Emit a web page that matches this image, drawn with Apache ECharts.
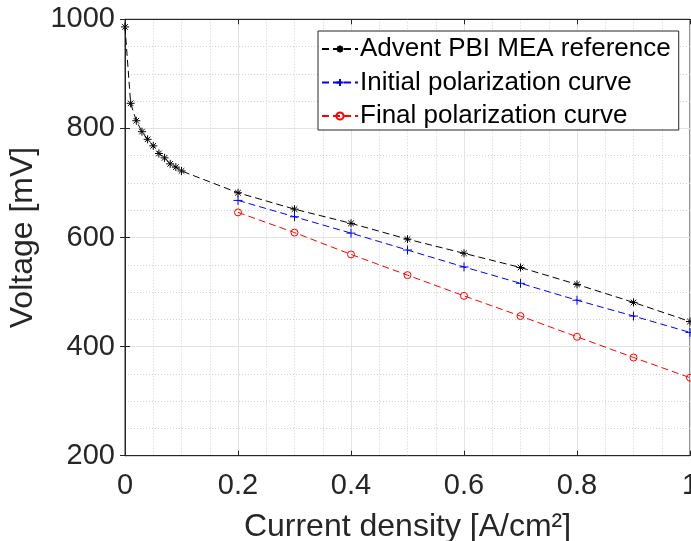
<!DOCTYPE html>
<html>
<head>
<meta charset="utf-8">
<script src="https://cdn.jsdelivr.net/npm/echarts@6/dist/echarts.min.js"></script>
<style>
html,body{margin:0;padding:0;background:#fff;}
#chart{width:691px;height:541px;}
</style>
</head>
<body>
<div id="chart"></div>
<script>
// Data
const refCurrent = [0, 0.01, 0.02, 0.03, 0.04, 0.05, 0.06, 0.07, 0.08, 0.09, 0.1, 0.2, 0.3, 0.4, 0.5, 0.6, 0.7, 0.8, 0.9, 1.0];
const refVoltage = [986, 846, 814, 794, 780, 768, 754, 746, 735, 729, 722, 682, 652, 626, 597, 571, 545, 514, 481, 446];
const polCurrent = [0.2, 0.3, 0.4, 0.5, 0.6, 0.7, 0.8, 0.9, 1.0];
const initialVoltage = [668, 638, 608, 577, 546, 516, 485, 456, 426];
const finalVoltage = [646, 609, 569, 531, 493, 456, 418, 380, 343];
const seriesNames = ['Advent PBI MEA reference', 'Initial polarization curve', 'Final polarization curve'];
const xTicks = [0, 0.2, 0.4, 0.6, 0.8, 1];
const yTicks = [200, 400, 600, 800, 1000];

const FONT = "'Liberation Sans', Arial, Helvetica, sans-serif";
const AXC = '#262626';
const pairs = (xs, ys) => xs.map((x, i) => [x, ys[i]]);

const SYM_STAR = 'path://M5 0 L5 10 M0 5 L10 5 M1.5 1.5 L8.5 8.5 M8.5 1.5 L1.5 8.5';
const SYM_PLUS = 'path://M5 0 L5 10 M0 5 L10 5';
const SYM_CIRC = 'path://M10 5 A5 5 0 1 1 0 5 A5 5 0 1 1 10 5 Z';

function mkSeries(name, data, color, symbol, size) {
  return {
    name: name, type: 'line', data: data,
    symbol: symbol, symbolSize: size, showSymbol: true,
    lineStyle: { color: color, width: 1, type: [7, 4] },
    itemStyle: { color: 'none', borderColor: color, borderWidth: 1 },
    emphasis: { disabled: true },
    animation: false, clip: false, z: 3
  };
}

const grid = { left: 125, right: 1, top: 19.3, bottom: 85.3, containLabel: false, outerBoundsMode: 'none',
  show: true, borderColor: AXC, borderWidth: 1, backgroundColor: 'transparent' };

const chart = echarts.init(document.getElementById('chart'), null, { renderer: 'canvas' });
chart.setOption({
  animation: false,
  backgroundColor: '#fff',
  grid: grid,
  legend: {
    data: seriesNames,
    orient: 'vertical',
    left: 318, top: 31,
    padding: [5, 8, 1, 3],
    itemWidth: 36, itemHeight: 9, itemGap: 7.5,
    backgroundColor: '#fff',
    borderColor: AXC, borderWidth: 1,
    textStyle: { fontFamily: FONT, fontSize: 26, color: '#000', lineHeight: 26, padding: [0, 0, 0, -3] },
    selectedMode: false
  },
  xAxis: [{
    type: 'value', min: 0, max: 1, interval: 0.2,
    name: 'Current density [A/cm²]', nameLocation: 'middle', nameGap: 55,
    nameTextStyle: { fontFamily: FONT, fontSize: 32, color: AXC },
    axisLine: { show: true, lineStyle: { color: AXC, width: 1 } },
    axisTick: { show: true, inside: true, length: 5, lineStyle: { color: AXC } },
    axisLabel: { fontFamily: FONT, fontSize: 29, color: AXC, margin: 16, hideOverlap: false,
      formatter: v => { const t = xTicks.find(k => Math.abs(k - v) < 1e-9); return t === undefined ? '' : String(t); } },
    splitLine: { show: true, lineStyle: { color: '#e3e3e3', width: 1 } },
    minorTick: { show: false, splitNumber: 4 },
    minorSplitLine: { show: true, lineStyle: { color: '#d0d0d0', width: 1, type: [1, 2] } }
  }, {
    type: 'value', min: 0, max: 1, interval: 0.2, position: 'top',
    axisLine: { show: true, lineStyle: { color: AXC } },
    axisTick: { show: true, inside: true, length: 5, lineStyle: { color: AXC } },
    axisLabel: { show: false }, splitLine: { show: false }
  }],
  yAxis: [{
    type: 'value', min: 200, max: 1000, interval: 200,
    name: 'Voltage [mV]', nameLocation: 'middle', nameGap: 76,
    nameTextStyle: { fontFamily: FONT, fontSize: 32, color: AXC },
    axisLine: { show: true, lineStyle: { color: AXC, width: 1 } },
    axisTick: { show: true, inside: true, length: 5, lineStyle: { color: AXC } },
    axisLabel: { fontFamily: FONT, fontSize: 29, color: AXC, margin: 10,
      formatter: v => yTicks.includes(v) ? String(v) : '' },
    splitLine: { show: true, lineStyle: { color: '#e3e3e3', width: 1 } },
    minorTick: { show: false, splitNumber: 4 },
    minorSplitLine: { show: true, lineStyle: { color: '#d0d0d0', width: 1, type: [1, 2] } }
  }, {
    type: 'value', min: 200, max: 1000, interval: 200, position: 'right',
    axisLine: { show: true, lineStyle: { color: AXC } },
    axisTick: { show: true, inside: true, length: 5, lineStyle: { color: AXC } },
    axisLabel: { show: false }, splitLine: { show: false }
  }],
  series: [
    mkSeries(seriesNames[0], pairs(refCurrent, refVoltage), '#000000', SYM_STAR, 8),
    mkSeries(seriesNames[1], pairs(polCurrent, initialVoltage), '#0000ff', SYM_PLUS, 9),
    mkSeries(seriesNames[2], pairs(polCurrent, finalVoltage), '#ff0000', SYM_CIRC, 7)
  ]
});
</script>
</body>
</html>
